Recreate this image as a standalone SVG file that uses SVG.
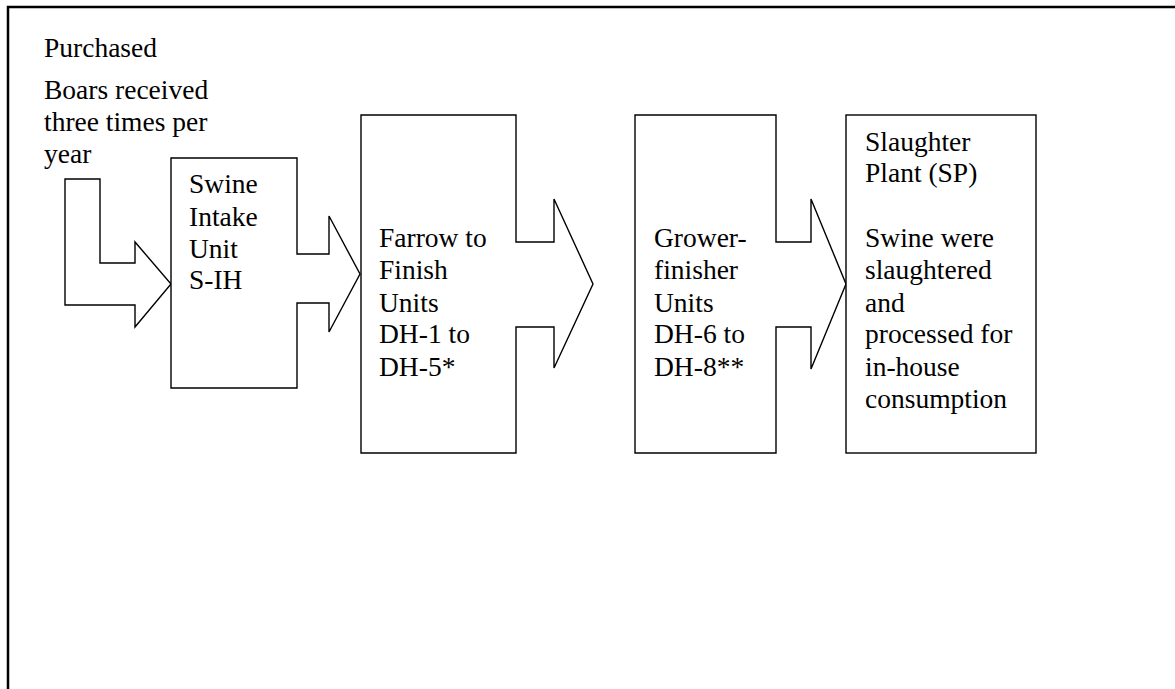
<svg xmlns="http://www.w3.org/2000/svg" width="1175" height="689" viewBox="0 0 1175 689">
<style>
.t{font-family:"Liberation Serif","Times New Roman",serif;font-size:27.5px;fill:#000}
.s{fill:#fff;stroke:#000;stroke-width:1.4;stroke-linejoin:miter}
</style>
<rect x="0" y="0" width="1175" height="689" fill="#fff"/>
<path d="M8,700 V7 H1190" fill="none" stroke="#000" stroke-width="2.5"/>
<g id="connectors">
<polygon id="boar-arrow" class="s" points="65,179 100,179 100,263 135,263 135,242 171,284 135,327 135,305 65,305"/>
</g>
<g id="purchased-label">
<text class="t" x="44" y="57">Purchased</text>
<text class="t" x="44" y="99">Boars received</text>
<text class="t" x="44" y="131">three times per</text>
<text class="t" x="44" y="163">year</text>
</g>
<g id="swine-intake">
<polygon class="s" points="171,158 297,158 297,254 329,254 329,216 360,274 329,332 329,303 297,303 297,388 171,388"/>
<text class="t" x="189" y="193">Swine</text>
<text class="t" x="189" y="226">Intake</text>
<text class="t" x="189" y="258">Unit</text>
<text class="t" x="189" y="289">S-IH</text>
</g>
<g id="farrow">
<polygon class="s" points="361,115 516,115 516,242 554,242 554,199 593,284 554,368 554,327 516,327 516,453 361,453"/>
<text class="t" x="379" y="247">Farrow to</text>
<text class="t" x="379" y="279">Finish</text>
<text class="t" x="379" y="312">Units</text>
<text class="t" x="379" y="343">DH-1 to</text>
<text class="t" x="379" y="376">DH-5*</text>
</g>
<g id="grower">
<polygon class="s" points="635,115 776,115 776,242 811,242 811,199 846,284 811,369 811,327 776,327 776,453 635,453"/>
<text class="t" x="654" y="247">Grower-</text>
<text class="t" x="654" y="279">finisher</text>
<text class="t" x="654" y="312">Units</text>
<text class="t" x="654" y="343">DH-6 to</text>
<text class="t" x="654" y="376">DH-8**</text>
</g>
<g id="slaughter">
<rect class="s" x="846" y="115" width="190" height="338"/>
<text class="t" x="865" y="151">Slaughter</text>
<text class="t" x="865" y="182">Plant (SP)</text>
<text class="t" x="865" y="247">Swine were</text>
<text class="t" x="865" y="279">slaughtered</text>
<text class="t" x="865" y="312">and</text>
<text class="t" x="865" y="343">processed for</text>
<text class="t" x="865" y="376">in-house</text>
<text class="t" x="865" y="408">consumption</text>
</g>
</svg>
